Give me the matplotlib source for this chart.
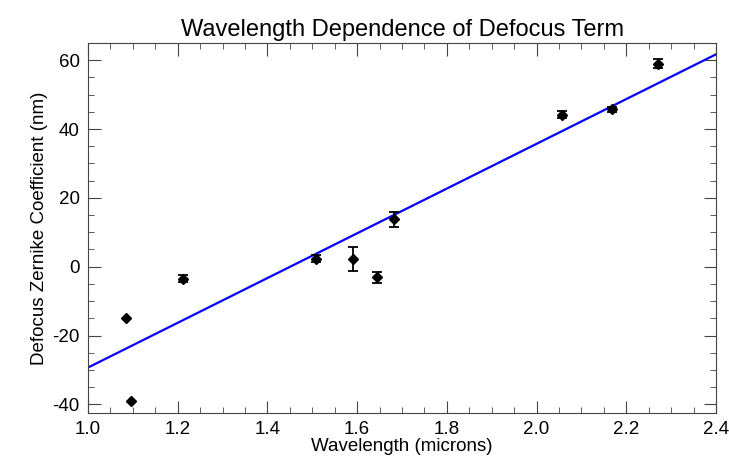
import matplotlib
matplotlib.use("Agg")
import matplotlib.pyplot as plt
from matplotlib.ticker import MultipleLocator

# measured defocus terms
wavelength = [1.085, 1.095, 1.212, 1.508, 1.590, 1.645, 1.682, 2.057, 2.168, 2.270]
defocus = [-14.8, -39.0, -3.5, 2.3, 2.3, -3.0, 13.8, 44.2, 45.7, 59.0]
defocus_err = [0.0, 0.0, 1.0, 1.0, 3.5, 1.6, 2.2, 1.0, 0.8, 1.3]

# linear fit drawn across the plot
fit_x = [1.0, 2.4]
fit_y = [-29.3, 61.7]

plt.rcParams['font.family'] = ['Liberation Sans', 'DejaVu Sans']
plt.rcParams['axes.unicode_minus'] = False

fig = plt.figure(figsize=(7.29, 4.72), dpi=100)
ax = fig.add_axes([0.1207, 0.125, 0.8615, 0.784])

ax.plot(fit_x, fit_y, color="#0000ff", lw=1.6, zorder=2)

# points with a visible error bar, and those without
wx = [w for w, e in zip(wavelength, defocus_err) if e > 0]
wy = [d for d, e in zip(defocus, defocus_err) if e > 0]
we = [e for e in defocus_err if e > 0]
nx = [w for w, e in zip(wavelength, defocus_err) if e == 0]
ny = [d for d, e in zip(defocus, defocus_err) if e == 0]
ax.errorbar(wx, wy, yerr=we, fmt="D", color="black",
            ms=5.5, capsize=3.5, elinewidth=1.3, capthick=1.3, zorder=3)
ax.plot(nx, ny, "D", color="black", ms=5.5, zorder=3)

ax.set_xlim(1.0, 2.4)
ax.set_ylim(-42.5, 65)
ax.xaxis.set_major_locator(MultipleLocator(0.2))
ax.xaxis.set_minor_locator(MultipleLocator(0.05))
ax.yaxis.set_major_locator(MultipleLocator(20))
ax.yaxis.set_minor_locator(MultipleLocator(5))
ax.tick_params(which="both", direction="in", top=True, right=True, labelsize=13.5, color="#444444")
ax.tick_params(which="major", length=9, pad=6)
ax.tick_params(which="minor", length=4.5)
for s in ax.spines.values():
    s.set_color("#444444")

ax.set_title("Wavelength Dependence of Defocus Term", fontsize=17, pad=5)
ax.set_xlabel("Wavelength (microns)", fontsize=13.5, labelpad=0)
ax.set_ylabel("Defocus Zernike Coefficient (nm)", fontsize=13.5, labelpad=3)

fig.savefig("out.png", dpi=100)
